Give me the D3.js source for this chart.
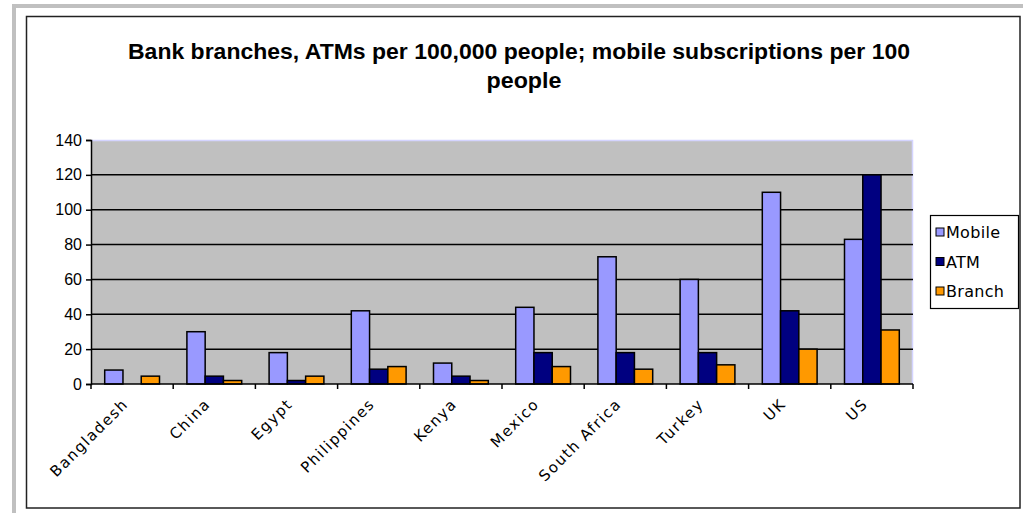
<!DOCTYPE html>
<html>
<head>
<meta charset="utf-8">
<script src="https://cdn.jsdelivr.net/npm/d3@7"></script>
<style>
  body { margin: 0; background: #fff; }
  svg { display: block; }
</style>
</head>
<body>
<div id="chart"></div>
<script>
// data
var countries = ["Bangladesh", "China", "Egypt", "Philippines", "Kenya", "Mexico", "South Africa", "Turkey", "UK", "US"];
var mobile = [8, 30, 18, 42, 12, 44, 73, 60, 110, 83];
var atm = [0, 4.5, 2, 8.5, 4.5, 18, 18, 18, 42, 120];
var branch = [4.5, 2, 4.5, 10, 2, 10, 8.5, 11, 20, 31];
var seriesNames = ["Mobile", "ATM", "Branch"];
var seriesColors = ["#9999ff", "#000080", "#ff9900"];
var yTicks = [0, 20, 40, 60, 80, 100, 120, 140];

var svgWidth = 1023, svgHeight = 513;
var plot = { left: 91, right: 913, top: 140, bottom: 384 };

var svg = d3.select("#chart").append("svg")
  .attr("width", svgWidth)
  .attr("height", svgHeight);

// grey frame of the original screenshot
svg.append("rect").attr("x", 12).attr("y", 4).attr("width", svgWidth - 12).attr("height", 4).attr("fill", "#c0c0c0");
svg.append("rect").attr("x", 12).attr("y", 4).attr("width", 4).attr("height", svgHeight - 4).attr("fill", "#c0c0c0");

// chart border
svg.append("rect")
  .attr("x", 26.5).attr("y", 16.5)
  .attr("width", 1020 - 26.5).attr("height", 508 - 16.5)
  .attr("fill", "#fff")
  .attr("stroke", "#222")
  .attr("stroke-width", 1.5);

// title
var title = svg.append("g")
  .attr("font-family", "'Liberation Sans', Arial, sans-serif")
  .attr("font-weight", "bold")
  .attr("font-size", 22)
  .attr("text-anchor", "middle");
title.append("text")
  .attr("x", 519).attr("y", 59)
  .attr("textLength", 782).attr("lengthAdjust", "spacingAndGlyphs")
  .text("Bank branches, ATMs per 100,000 people;  mobile subscriptions per 100");
title.append("text")
  .attr("x", 524).attr("y", 88)
  .attr("textLength", 75).attr("lengthAdjust", "spacingAndGlyphs")
  .text("people");

var x0 = d3.scaleBand()
  .domain(countries)
  .range([plot.left, plot.right])
  .paddingInner(0).paddingOuter(0);

var barW = x0.bandwidth() / 4.5;
var x1 = d3.scaleBand()
  .domain(seriesNames)
  .range([barW * 0.75, barW * 3.75]);

var y = d3.scaleLinear()
  .domain([0, 140])
  .range([plot.bottom, plot.top]);

// plot background
svg.append("rect")
  .attr("x", plot.left).attr("y", plot.top)
  .attr("width", plot.right - plot.left).attr("height", plot.bottom - plot.top)
  .attr("fill", "#c0c0c0");
svg.append("path")
  .attr("d", `M${plot.left},${plot.top + 0.5}H${plot.right - 0.5}V${plot.bottom}`)
  .attr("fill", "none")
  .attr("stroke", "#d4d4ff")
  .attr("stroke-width", 1.5);

// gridlines
svg.append("g").selectAll("line")
  .data(yTicks.filter(d => d > 0 && d < 140))
  .enter().append("line")
  .attr("x1", plot.left).attr("x2", plot.right)
  .attr("y1", d => y(d)).attr("y2", d => y(d))
  .attr("stroke", "#000")
  .attr("stroke-width", 1.5);

// bars
var table = countries.map((c, i) => ({ country: c, values: [mobile[i], atm[i], branch[i]] }));

var groups = svg.append("g").selectAll("g")
  .data(table)
  .enter().append("g")
  .attr("transform", d => `translate(${x0(d.country)},0)`);

groups.selectAll("rect")
  .data(d => d.values.map((v, k) => ({ key: seriesNames[k], value: v, color: seriesColors[k] })).filter(d => d.value > 0))
  .enter().append("rect")
  .attr("x", d => x1(d.key))
  .attr("y", d => y(d.value))
  .attr("width", x1.bandwidth())
  .attr("height", d => y(0) - y(d.value))
  .attr("fill", d => d.color)
  .attr("stroke", "#000")
  .attr("stroke-width", 1.5);

// y axis
var yAxis = svg.append("g")
  .attr("transform", `translate(${plot.left},0)`)
  .call(d3.axisLeft(y).tickValues(yTicks).tickSize(5).tickPadding(4));
yAxis.select(".domain").attr("stroke", "#000").attr("stroke-width", 1.5);
yAxis.selectAll(".tick line").attr("stroke", "#000").attr("stroke-width", 1.5);
yAxis.selectAll("text")
  .attr("font-family", "'Liberation Sans', Arial, sans-serif")
  .attr("font-size", 16)
  .attr("fill", "#000");

// x axis: ticks at category boundaries
var xAxis = svg.append("g");
xAxis.append("line")
  .attr("x1", plot.left).attr("x2", plot.right)
  .attr("y1", plot.bottom).attr("y2", plot.bottom)
  .attr("stroke", "#000").attr("stroke-width", 1.5);
xAxis.selectAll(".tk")
  .data(countries.concat(["end"]))
  .enter().append("line")
  .attr("class", "tk")
  .attr("x1", (d, i) => plot.left + i * x0.bandwidth())
  .attr("x2", (d, i) => plot.left + i * x0.bandwidth())
  .attr("y1", plot.bottom).attr("y2", plot.bottom + 5)
  .attr("stroke", "#000").attr("stroke-width", 1.5);

xAxis.selectAll(".lbl")
  .data(countries)
  .enter().append("text")
  .attr("class", "lbl")
  .attr("transform", d => `translate(${x0(d) + x0.bandwidth() / 2 - 3},${plot.bottom + 21}) rotate(-45)`)
  .attr("text-anchor", "end")
  .attr("font-family", "'DejaVu Sans', Verdana, sans-serif")
  .attr("font-size", 15)
  .attr("letter-spacing", 1.5)
  .attr("fill", "#000")
  .text(d => d);

// legend
var legend = svg.append("g").attr("transform", "translate(930,215)");
legend.append("rect")
  .attr("x", 0.5).attr("y", 0.5)
  .attr("width", 88).attr("height", 93)
  .attr("fill", "#fff")
  .attr("stroke", "#000")
  .attr("stroke-width", 1.2);
var items = legend.selectAll(".item")
  .data(seriesNames)
  .enter().append("g")
  .attr("class", "item")
  .attr("transform", (d, i) => `translate(0,${17 + i * 29.5})`);
items.append("rect")
  .attr("x", 6).attr("y", -4)
  .attr("width", 8).attr("height", 8)
  .attr("fill", (d, i) => seriesColors[i])
  .attr("stroke", "#000");
items.append("text")
  .attr("x", 16).attr("y", 6)
  .attr("font-family", "'DejaVu Sans', Verdana, sans-serif")
  .attr("font-size", 16)
  .attr("letter-spacing", 0.3)
  .attr("fill", "#000")
  .text(d => d);
</script>
</body>
</html>
